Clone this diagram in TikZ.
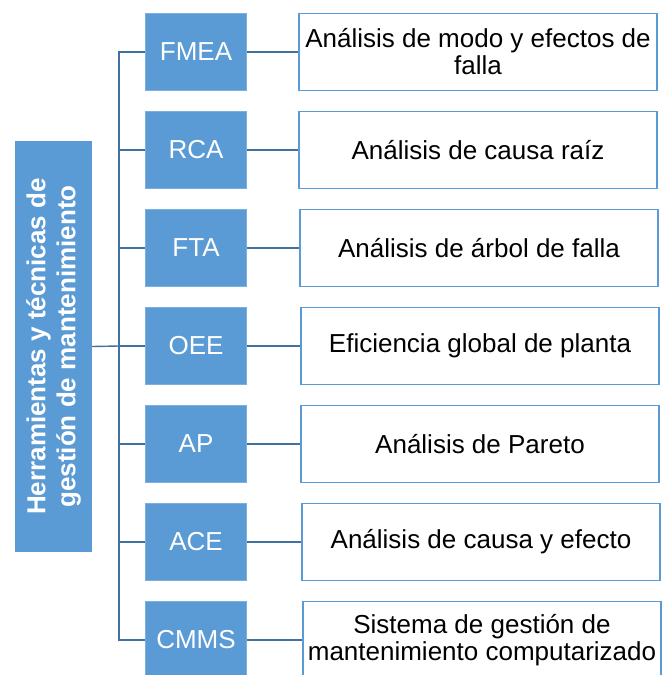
\documentclass[tikz,border=0pt]{standalone}
\usepackage{fontspec}
\setmainfont{Liberation Sans}
\definecolor{boxblue}{RGB}{91,155,213}
\definecolor{lineblue}{RGB}{65,113,160}
\begin{document}
\begin{tikzpicture}[x=1pt,y=-1pt,
        tool/.style={fill=boxblue,draw=boxblue!80!white,minimum width=101pt,minimum height=77pt,
            text=white,font=\fontsize{26}{30}\selectfont},
        desc/.style={draw=boxblue,line width=1.3pt,fill=white,minimum width=358pt,minimum height=77pt,
            align=center,font=\fontsize{26}{27}\selectfont},
        branch/.style={draw=lineblue,line width=1.4pt}]
        \useasboundingbox (0,0) rectangle (662,675);
        \node[fill=boxblue,rotate=90,minimum width=411pt,minimum height=77pt,text=white,align=center,
            font=\fontsize{26}{30}\selectfont\bfseries] (root) at (53.5,346.5)
            {Herramientas y técnicas de\\gestión de mantenimiento};
        \coordinate (trunk) at (119,346);
        \node[tool] (fmea) at (196,52) {FMEA};
        \node[tool] (rca) at (196,150) {RCA};
        \node[tool] (fta) at (196,248) {FTA};
        \node[tool] (oee) at (196,346) {OEE};
        \node[tool] (ap) at (196,444) {AP};
        \node[tool] (ace) at (196,542) {ACE};
        \node[tool] (cmms) at (196,640) {CMMS};
        \node[desc] (fmead) at (478,52) {Análisis de modo y efectos de\\falla};
        \node[desc] (rcad) at (478,150) {Análisis de causa raíz};
        \node[desc] (ftad) at (479,248) {Análisis de árbol de falla};
        \node[desc] (oeed) at (480,346) {Eficiencia global de planta};
        \node[desc] (apd) at (480,444) {Análisis de Pareto};
        \node[desc] (aced) at (481,542) {Análisis de causa y efecto};
        \node[desc] (cmmsd) at (482,640) {Sistema de gestión de\\mantenimiento computarizado};
        \draw[branch] (root.south) -- (trunk);
        \draw[branch] (fmea.west) -| (trunk) |- (cmms.west);
        \draw[branch] (rca.west) -- (trunk |- rca.west);
        \draw[branch] (fta.west) -- (trunk |- fta.west);
        \draw[branch] (oee.west) -- (trunk);
        \draw[branch] (ap.west) -- (trunk |- ap.west);
        \draw[branch] (ace.west) -- (trunk |- ace.west);
        \draw[branch] (fmea.east) -- (fmead.west);
        \draw[branch] (rca.east) -- (rcad.west);
        \draw[branch] (fta.east) -- (ftad.west);
        \draw[branch] (oee.east) -- (oeed.west);
        \draw[branch] (ap.east) -- (apd.west);
        \draw[branch] (ace.east) -- (aced.west);
        \draw[branch] (cmms.east) -- (cmmsd.west);
    \end{tikzpicture}
\end{document}
